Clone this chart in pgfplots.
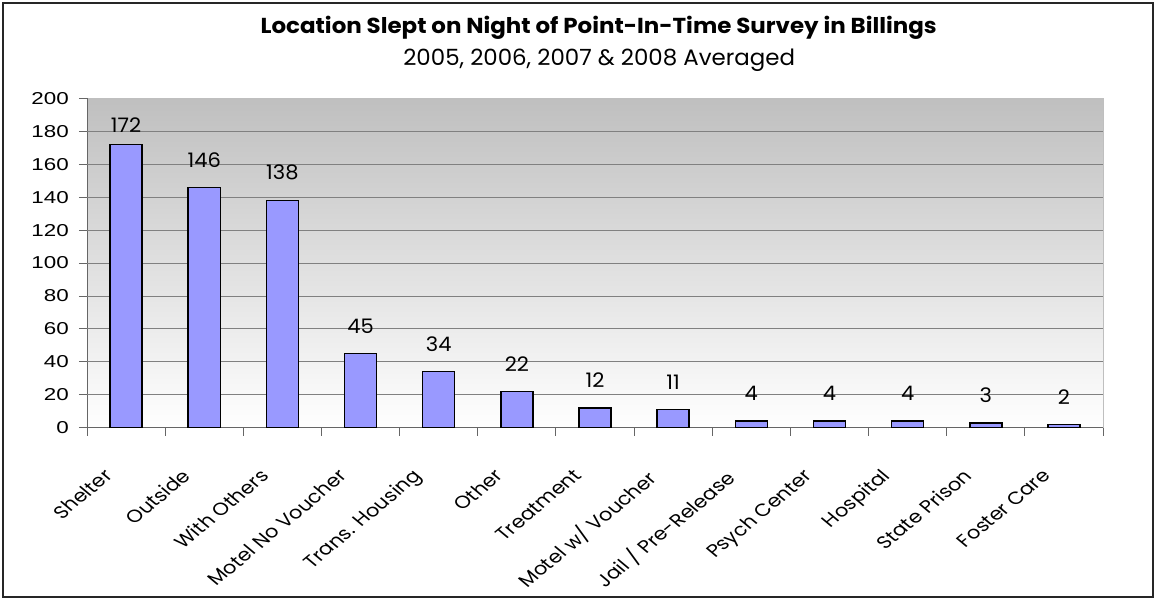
\documentclass[border=0pt]{standalone}
\usepackage{fontspec}
\usepackage{graphicx}
\usepackage{pgfplots}
\pgfplotsset{compat=1.18}
\newfontfamily\arial{Liberation Sans}
\newfontfamily\gothic{Poppins}
\definecolor{barfill}{HTML}{9999FF}
\newcommand\xl[1]{\scalebox{1.2}[1]{\rotatebox{45}{\gothic\fontsize{13.2}{15}\selectfont #1}}}
\begin{document}
\begin{tikzpicture}
\useasboundingbox (0,0) rectangle (867pt,450pt);
\draw[line width=1.1pt, black!85] (2.25pt,2.25pt) rectangle (864.75pt,447.75pt);
\node[anchor=base, inner sep=0pt] at (449pt,424.5pt) {\resizebox{507pt}{13pt}{\gothic\bfseries Location Slept on Night of Point-In-Time Survey in Billings}};
\node[anchor=base, inner sep=0pt] at (449.4pt,400.5pt) {\resizebox{293.8pt}{12.4pt}{\gothic 2005, 2006, 2007 \& 2008 Averaged}};
\begin{axis}[
  at={(65.25pt,129.2pt)}, anchor=south west,
  scale only axis, width=762pt, height=247pt,
  xmin=-0.5, xmax=12.5, ymin=0, ymax=200,
  axis x line=bottom, axis y line=left,
  axis line style={black!60, line width=0.75pt, -},
  axis background/.style={top color=black!25, bottom color=white},
  clip=false,
  xtick={0,...,12},
  minor xtick={-0.5,0.5,...,12.5},
  every major x tick/.append style={draw=none},
  xticklabels={\xl{Shelter},\xl{Outside},\xl{With Others},\xl{Motel No Voucher},\xl{Trans. Housing},\xl{Other},\xl{Treatment},\xl{Motel w/ Voucher},\xl{Jail / Pre-Release},\xl{Psych Center},\xl{Hospital},\xl{State Prison},\xl{Foster Care}},
  xticklabel style={anchor=north east, inner sep=0pt, xshift=-9pt, yshift=-24pt},
  tick align=outside,
  major tick length=6pt, minor tick length=6pt,
  tick style={black!60, line width=0.75pt},
  ytick={0,20,...,200},
  scaled y ticks=false,
  /pgf/number format/assume math mode=true,
  yticklabel={\scalebox{1.3}[1]{\arial\fontsize{12.9}{15}\selectfont\pgfmathprintnumber{\tick}}},
  yticklabel style={anchor=east, inner sep=0pt, xshift=-7.5pt},
  extra y ticks={20,40,...,180},
  extra y tick labels={},
  extra y tick style={grid=major, major tick length=0pt},
  major grid style={black!50, line width=0.75pt},
]
\draw[black!25, line width=0.75pt] (rel axis cs:1,0) -- (rel axis cs:1,1);
\addplot[ybar, bar width=24pt, fill=barfill, draw=black, line width=1.1pt] coordinates {
  (0,172) (1,146) (2,138) (3,45) (4,34) (5,22) (6,12) (7,11) (8,4) (9,4) (10,4) (11,3) (12,2)};
\addplot[draw=none, point meta=explicit symbolic,
  nodes near coords={\scalebox{1.05}[1]{\gothic\fontsize{15}{18}\selectfont\pgfplotspointmeta}},
  every node near coord/.append style={anchor=south, inner sep=0pt, yshift=15pt}] coordinates {
  (1,146) [146] (2,138) [138] (3,45) [45] (4,34) [34] (5,22) [22] (6,12) [12] (7,11) [11] (8,4) [4] (9,4) [4] (10,4) [4] (11,3) [3] (12,2) [2]};
\addplot[draw=none, point meta=explicit symbolic,
  nodes near coords={\scalebox{1.05}[1]{\gothic\fontsize{15}{18}\selectfont\pgfplotspointmeta}},
  every node near coord/.append style={anchor=south, inner sep=0pt, yshift=9pt}] coordinates {
  (0,172) [172]};
\end{axis}
\end{tikzpicture}
\end{document}
